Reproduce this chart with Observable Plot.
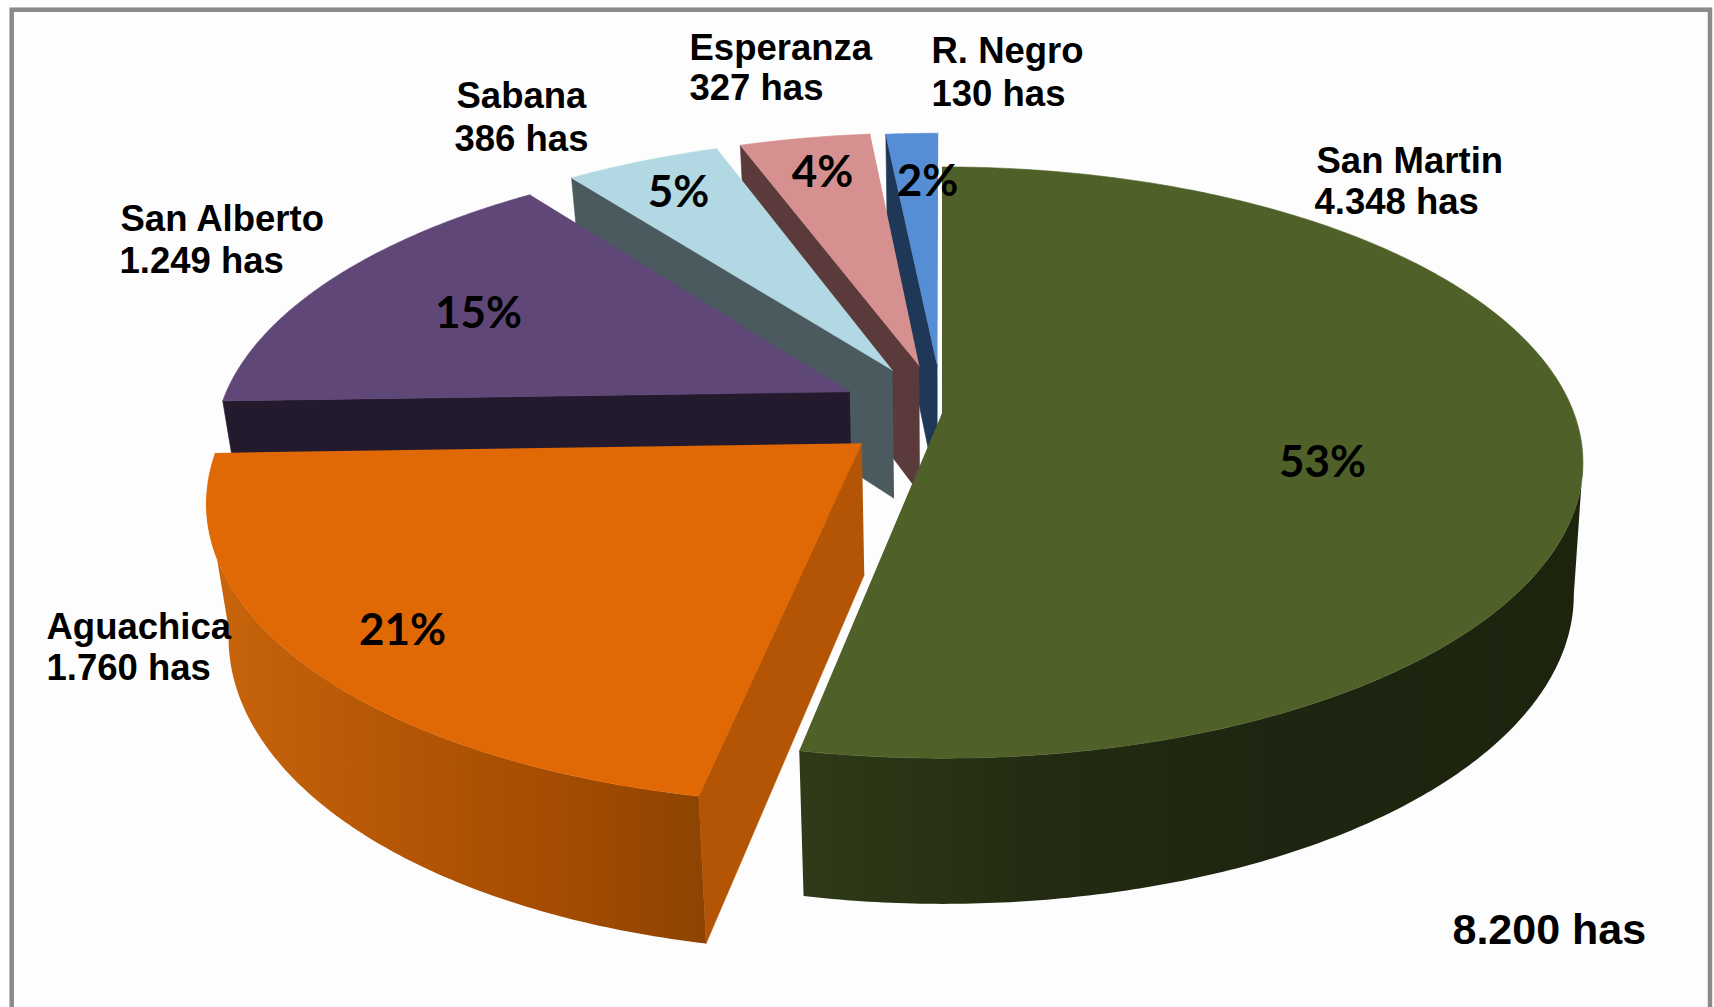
<!DOCTYPE html>
<html><head><meta charset="utf-8">
<style>html,body{margin:0;padding:0;background:#fff;overflow:hidden}svg{display:block}</style>
<script src="https://cdn.jsdelivr.net/npm/d3@7"></script>
<script src="https://cdn.jsdelivr.net/npm/@observablehq/plot@0.6"></script>
</head><body><div id="chart"></div>
<script>
const categories = ["R. Negro","Esperanza","Sabana","San Alberto","Aguachica","San Martin"];
const hectares = [130,327,386,1249,1760,4348];
const totalHectares = 8200;
const exploded = [0.165,0.17,0.17,0.165,0.165,0];
const topColors = ["#558ed5","#d69090","#b2d9e3","#5f4778","#e06805","#4f6028"];
const wallColors = ["#1f3858","#5a3a3a","#4a5a5e","#241a2e","#b35504","#1e2510"];
const rimFills = [null,null,null,null,"url(#rimOrange)","url(#rimGreen)"];

// pie order clockwise from 12 o'clock
const pieOrder = [5,4,3,2,1,0];
const total = d3.sum(hectares);
const angles = new Map();
let acc = 0;
for (const i of pieOrder){ const a0 = acc/total*2*Math.PI; acc += hectares[i]; angles.set(i,[a0,acc/total*2*Math.PI]); }

// perspective view of the disc plane
const view = {cx:942, cy:411.5, a:631, b:287, k:0.171, a2Left:612, a2Right:622, b2:300, depth:130};
function project(u,v,bottom){
  const w = 1 - view.k*v;
  return bottom
    ? {x:view.cx + (u<0?view.a2Left:view.a2Right)*u/w, y:view.cy + view.depth + view.b2*v/w}
    : {x:view.cx + view.a*u/w, y:view.cy + view.b*v/w};
}
function offset(i){ const [a0,a1]=angles.get(i), m=(a0+a1)/2; return [exploded[i]*Math.sin(m), -exploded[i]*Math.cos(m)]; }
function rim(i,a0,a1,bottom){
  const [ox,oy]=offset(i), n=Math.max(2,Math.ceil((a1-a0)/0.01)), pts=[];
  for(let s=0;s<=n;s++){const t=a0+(a1-a0)*s/n; pts.push(project(ox+Math.sin(t),oy-Math.cos(t),bottom));}
  return pts;
}
const apex=(i,bottom)=>{const [ox,oy]=offset(i);return project(ox,oy,bottom);};
const topFace=i=>{const [a0,a1]=angles.get(i);return [apex(i,false),...rim(i,a0,a1,false)];};
const radialWall=i=>{const a0=angles.get(i)[0];
  return [apex(i,false),rim(i,a0,a0+0.001,false)[0],rim(i,a0,a0+0.001,true)[0],apex(i,true)];};
// the curved wall is seen between the two outermost points of the ellipse
const silhouette=[Math.acos(-view.k),2*Math.PI-Math.acos(-view.k)];
const rimWall=i=>{const [a0,a1]=angles.get(i);
  const b0=Math.max(a0,silhouette[0]), b1=Math.min(a1,silhouette[1]);
  return [...rim(i,b0,b1,false),...rim(i,b0,b1,true).reverse()];};

const poly=(pts,fill)=>Plot.line(pts,{x:"x",y:"y",fill,stroke:fill,strokeWidth:0.6,curve:"linear"});

const defs=()=>{
  const svg=d3.create("svg:defs");
  const grad=(id,x1,x2,stops)=>{
    const g=svg.append("linearGradient").attr("id",id).attr("gradientUnits","userSpaceOnUse")
      .attr("x1",x1).attr("x2",x2).attr("y1",0).attr("y2",0);
    stops.forEach(([o,c])=>g.append("stop").attr("offset",o).attr("stop-color",c));
  };
  grad("rimOrange",210,710,[[0,"#c8650c"],[0.4,"#b35504"],[0.75,"#a04a02"],[1,"#8c4302"]]);
  grad("rimGreen",800,1575,[[0,"#2f3a18"],[0.3,"#232c12"],[0.6,"#1e2510"],[1,"#1d240e"]]);
  return svg.node();
};

const sliceMarks=[];
categories.forEach((c,i)=>{
  sliceMarks.push(poly(radialWall(i),wallColors[i]));
  if(rimFills[i]) sliceMarks.push(Plot.line(rimWall(i),{x:"x",y:"y",fill:rimFills[i],curve:"linear"}));
  sliceMarks.push(poly(topFace(i),topColors[i]));
});

const fmt=d3.formatLocale({decimal:",",thousands:".",grouping:[3],currency:["",""]}).format(",d");
const labelRows=[
  {i:5,x:1316,y:172,x2:1314,y2:213},
  {i:4,x:46,y:638,x2:46,y2:679},
  {i:3,x:120,y:230,x2:119,y2:272},
  {i:2,x:456,y:107,x2:454,y2:150},
  {i:1,x:689,y:59,x2:689,y2:99},
  {i:0,x:931,y:62,x2:931,y2:105}
];
const pctRows=[
  {i:5,x:1322,y:462},{i:4,x:402,y:630},{i:3,x:478,y:313},
  {i:2,x:678,y:192},{i:1,x:822,y:172},{i:0,x:927,y:181}
];
const labelFont={fontFamily:"Liberation Sans",fontWeight:"bold",fontSize:36.5,fill:"#000",textAnchor:"start",lineAnchor:"bottom"};

const plot=Plot.plot({
  width:1714,height:1007,margin:0,
  x:{domain:[0,1714],range:[0,1714],axis:null},
  y:{domain:[0,1007],range:[0,1007],axis:null},
  marks:[
    defs,
    Plot.frame({stroke:"#8a8a8a",fill:"#fdfdfd",strokeWidth:4.5,insetLeft:11.2,insetTop:9.2,insetRight:4.5,insetBottom:-10}),
    ...sliceMarks,
    Plot.text(labelRows,{x:"x",y:"y",text:d=>categories[d.i],...labelFont}),
    Plot.text(labelRows,{x:"x2",y:"y2",text:d=>`${fmt(hectares[d.i])} has`,...labelFont}),
    Plot.text(pctRows,{x:"x",y:"y",text:d=>`${Math.round(hectares[d.i]/total*100)}%`,fontFamily:"Lato",fontWeight:"bold",fontSize:44,fill:"#000",textAnchor:"middle",lineAnchor:"middle"}),
    Plot.text([totalHectares],{x:()=>1452,y:()=>943,text:d=>`${fmt(d)} has`,fontFamily:"Liberation Sans",fontWeight:"bold",fontSize:43,fill:"#000",textAnchor:"start",lineAnchor:"bottom"})
  ]
});
document.getElementById("chart").append(plot);
</script></body></html>
